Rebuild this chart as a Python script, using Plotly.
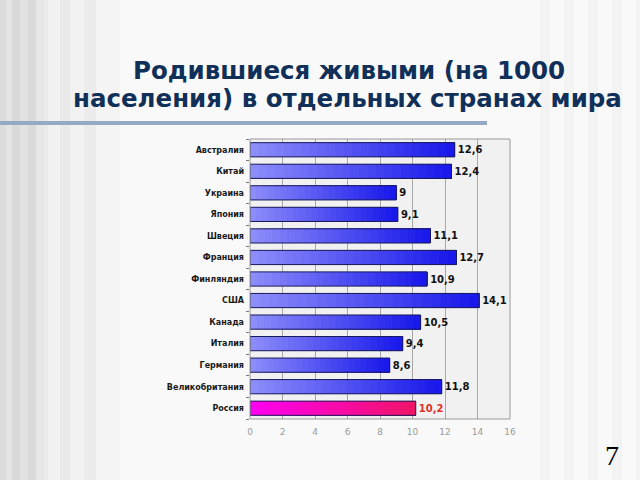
import plotly.graph_objects as go

countries = ["Австралия", "Китай", "Украина", "Япония", "Швеция", "Франция",
             "Финляндия", "США", "Канада", "Италия", "Германия",
             "Великобритания", "Россия"]
values = [12.6, 12.4, 9, 9.1, 11.1, 12.7, 10.9, 14.1, 10.5, 9.4, 8.6, 11.8, 10.2]
highlight = "Россия"
x_ticks = [0, 2, 4, 6, 8, 10, 12, 14, 16]
title_lines = ["Родившиеся живыми (на 1000", "населения) в отдельных странах мира"]
page_number = "7"

W, H = 640, 480
ML, MR, MT, MB = 250, 130, 139, 61
PW, PH = W - ML - MR, H - MT - MB


def px_x(p):
    return (p - ML) / PW


def px_y(p):
    return (H - MB - p) / PH


def lerp(c0, c1, t):
    return "rgb(%d,%d,%d)" % tuple(round(a + (b - a) * t) for a, b in zip(c0, c1))


BLUE0, BLUE1 = (140, 140, 250), (25, 25, 235)
PINK0, PINK1 = (255, 0, 240), (240, 20, 105)

fig = go.Figure()
N = 24
for i in range(N):
    t = i / (N - 1)
    cols = [lerp(PINK0, PINK1, t) if c == highlight else lerp(BLUE0, BLUE1, t) for c in countries]
    # each segment runs from its start to the end of the bar, so later ones cover earlier ones
    fig.add_trace(go.Bar(
        y=countries, x=[v * (N - i) / N for v in values], base=[v * i / N for v in values],
        orientation="h", marker=dict(color=cols, line=dict(width=0)),
        hoverinfo="skip", showlegend=False))

labels = [str(v).replace(".", ",") for v in values]
lab_colors = ["#e0302a" if c == highlight else "#111111" for c in countries]
fig.add_trace(go.Bar(
    y=countries, x=values, orientation="h",
    marker=dict(color="rgba(0,0,0,0)", line=dict(color="#1a1a5a", width=1)),
    text=labels, textposition="outside", cliponaxis=False,
    texttemplate="<b>%{text}</b>",
    textfont=dict(family="DejaVu Sans", size=10, color=lab_colors),
    showlegend=False))

shapes = []
stripe_specs = [(0, 6, "#dcdcdc"), (6, 12, "#e4e4e4"), (12, 20, "#d9d9d9"), (20, 28, "#e2e2e2"),
                (28, 36, "#dadada"), (36, 44, "#e6e6e6"), (44, 48, "#ebebeb"),
                (48, 60, "#f1f1f1"), (60, 70, "#eaeaea"), (70, 84, "#f2f2f2"),
                (84, 96, "#ececec"), (96, 120, "#f4f4f4")]
for x0, x1, col in stripe_specs:
    shapes.append(dict(type="rect", xref="paper", yref="paper", layer="below",
                       x0=px_x(x0), x1=px_x(x1), y0=px_y(H), y1=px_y(0),
                       fillcolor=col, line=dict(width=0)))
for x0 in range(540, 640, 24):
    shapes.append(dict(type="rect", xref="paper", yref="paper", layer="below",
                       x0=px_x(x0), x1=px_x(x0 + 10), y0=px_y(H), y1=px_y(0),
                       fillcolor="#f3f3f3", line=dict(width=0)))
shapes.append(dict(type="line", xref="paper", yref="paper",
                   x0=px_x(0), x1=px_x(487), y0=px_y(123), y1=px_y(123),
                   line=dict(color="#93a9c6", width=4)))
shapes.append(dict(type="rect", xref="paper", yref="paper", x0=0, x1=1, y0=0, y1=1,
                   line=dict(color="#9a9a9a", width=1), layer="above"))

annotations = [
    dict(text="<b>%s</b>" % title_lines[0], xref="paper", yref="paper",
         x=px_x(349), y=px_y(70), xanchor="center", yanchor="middle", showarrow=False,
         font=dict(family="DejaVu Sans", size=24.5, color="#10305a")),
    dict(text="<b>%s</b>" % title_lines[1], xref="paper", yref="paper",
         x=px_x(347), y=px_y(98), xanchor="center", yanchor="middle", showarrow=False,
         font=dict(family="DejaVu Sans", size=24.5, color="#10305a")),
    dict(text=page_number, xref="paper", yref="paper",
         x=px_x(612), y=px_y(455), xanchor="center", yanchor="middle", showarrow=False,
         font=dict(family="Liberation Serif", size=28, color="#000000")),
]

fig.update_layout(
    width=W, height=H, margin=dict(l=ML, r=MR, t=MT, b=MB),
    paper_bgcolor="#f9f9f9", plot_bgcolor="#f1f1f1",
    barmode="overlay", bargap=0.34,
    shapes=shapes, annotations=annotations,
    xaxis=dict(range=[0, 16], tickvals=x_ticks, ticktext=[str(t) for t in x_ticks],
               showgrid=True, gridcolor="#a8a8a8", gridwidth=1, zeroline=False,
               tickfont=dict(family="DejaVu Sans", size=9, color="#9a9a9a"),
               ticks="", ticklabelstandoff=6, fixedrange=True),
    yaxis=dict(autorange="reversed", categoryorder="array", categoryarray=countries,
               tickvals=countries, ticktext=["<b>%s</b>" % c for c in countries],
               tickfont=dict(family="DejaVu Sans", size=8, color="#1a1a1a"),
               ticks="outside", ticklen=3, tickcolor="#777777",
               ticklabelstandoff=5, showgrid=False, tickson="boundaries", fixedrange=True),
    font=dict(family="DejaVu Sans"),
)

fig.write_html("out.html")
